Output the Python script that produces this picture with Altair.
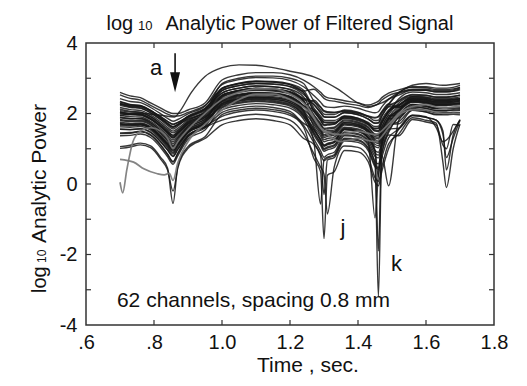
import altair as alt
import pandas as pd

# ---------------- data ----------------
T = [0.70, 0.73, 0.76, 0.79, 0.82, 0.84, 0.856, 0.87, 0.90, 0.95,
     1.00, 1.05, 1.10, 1.15, 1.20, 1.24,
     1.27, 1.29, 1.30, 1.31, 1.33, 1.36, 1.40, 1.43, 1.45, 1.46, 1.47, 1.49,
     1.52, 1.56, 1.60, 1.63, 1.65, 1.66, 1.68, 1.70]

ch01 = [2.60, 2.50, 2.45, 2.30, 2.15, 2.05, 2.00, 2.00, 2.10, 2.30,
        2.95, 3.10, 3.16, 3.16, 3.10, 2.95,
        2.76, 2.60, 2.50, 2.45, 2.42, 2.36, 2.30, 2.24, 2.30, 2.35, 2.45, 2.58,
        2.67, 2.76, 2.76, 2.72, 2.72, 2.72, 2.74, 2.80]
ch02 = [2.42, 2.34, 2.31, 2.17, 1.99, 1.86, 1.78, 1.83, 1.99, 2.21,
        2.82, 2.96, 3.02, 3.01, 2.94, 2.76,
        2.51, 2.32, 2.21, 2.18, 2.17, 2.21, 2.15, 2.06, 2.02, 2.05, 2.19, 2.40,
        2.52, 2.67, 2.66, 2.61, 2.61, 2.61, 2.63, 2.67]
ch03 = [2.12, 2.06, 2.04, 1.91, 1.71, 1.55, 1.45, 1.53, 1.76, 1.98,
        2.72, 2.86, 2.92, 2.91, 2.84, 2.66,
        2.16, 1.93, 1.81, 1.80, 1.80, 1.93, 1.87, 1.75, 1.63, 1.64, 1.83, 2.10,
        2.25, 2.44, 2.42, 2.37, 2.37, 2.37, 2.39, 2.42]
ch04 = [2.02, 1.98, 1.97, 1.85, 1.63, 1.45, 1.32, 1.44, 1.72, 1.96,
        2.65, 2.79, 2.85, 2.83, 2.76, 2.54,
        2.25, 2.02, 1.90, 1.89, 1.89, 2.02, 1.96, 1.84, 1.72, 1.73, 1.92, 2.19,
        2.18, 2.42, 2.39, 2.33, 2.33, 2.33, 2.35, 2.37]
ch05 = [1.80, 1.77, 1.78, 1.67, 1.42, 1.22, 1.06, 1.22, 1.56, 1.80,
        2.46, 2.60, 2.66, 2.64, 2.55, 2.31,
        1.97, 1.72, 1.58, 1.59, 1.61, 1.82, 1.76, 1.62, 1.42, 1.41, 1.63, 1.97,
        2.30, 2.49, 2.47, 2.42, 2.42, 2.42, 2.44, 2.47]
ch06 = [1.56, 1.55, 1.57, 1.47, 1.20, 0.97, 0.79, 0.99, 1.38, 1.64,
        2.28, 2.41, 2.46, 2.44, 2.35, 2.07,
        1.69, 1.42, 1.26, 1.29, 1.33, 1.61, 1.56, 1.39, 1.12, 1.09, 1.34, 1.75,
        2.10, 2.34, 2.31, 2.25, 2.25, 2.25, 2.27, 2.29]
ch07 = [1.37, 1.38, 1.42, 1.32, 1.03, 0.77, 0.56, 0.80, 1.27, 1.53,
        2.16, 2.29, 2.34, 2.31, 2.21, 1.90,
        1.47, 1.17, 1.01, 1.05, 1.11, 1.48, 1.43, 1.23, 0.87, 0.82, 1.12, 1.59,
        1.98, 2.26, 2.22, 2.16, 2.16, 2.16, 2.18, 2.19]
ch08 = [1.06, 1.10, 1.16, 1.08, 0.75, 0.45, -0.55, 0.50, 1.06, 1.34,
        1.97, 2.10, 2.15, 2.11, 2.00, 1.66,
        1.18, 0.84, 0.66, 0.73, 0.80, 1.27, 1.23, 1.00, 0.54, 0.47, 0.81, -0.05,
        1.81, 2.14, 2.09, 2.02, 2.02, 2.02, 2.04, 2.03]
ch09 = [2.23, 2.17, 2.15, 2.02, 1.82, 1.66, 1.56, 1.64, 1.87, 2.09,
        2.52, 2.66, 2.72, 2.70, 2.61, 2.37,
        1.79, 1.52, 1.36, 1.39, 1.43, 1.71, 1.66, 1.49, 1.22, 1.19, 1.44, 1.85,
        1.87, 2.20, 2.15, 2.08, 2.08, 2.08, 2.10, 2.09]
ch10 = [1.95, 1.91, 1.90, 1.78, 1.56, 1.38, 1.25, 1.37, 1.65, 1.89,
        2.29, 2.42, 2.47, 2.45, 2.36, 2.08,
        1.44, 1.14, 0.98, 1.02, 1.08, 1.45, 1.40, 1.20, -0.96, 0.30, 1.09, 1.56,
        1.58, 1.96, 1.91, 1.60, 1.20, 1.25, 1.50, 1.83]
ch11 = [1.83, 1.80, 1.81, 1.70, 1.45, 1.25, 1.09, 1.25, 1.59, 1.83,
        2.19, 2.32, 2.37, 2.34, 2.24, 1.93,
        1.21, -0.57, 0.69, 0.76, 0.83, 1.30, 1.26, 1.03, 0.57, -3.20, 0.84, 1.39,
        1.37, 1.83, 1.76, 1.68, 1.10, 1.00, 1.69, 1.65]
ch12 = [1.55, 1.54, 1.56, 1.46, 1.19, 0.96, 0.78, 0.98, 1.37, 1.63,
        1.92, 2.05, 2.10, 2.06, 1.95, 1.61,
        0.73, 0.35, -1.55, 0.25, 0.35, 0.95, 0.91, 0.63, 0.05, -0.05, 0.35, 1.01,
        1.56, 1.94, 1.89, 1.81, 1.40, 0.75, 1.30, 1.81]
ch13 = [2.34, 2.26, 2.23, 2.09, 1.91, 1.78, 1.70, 1.75, 1.91, 2.13,
        2.58, 2.72, 2.78, 2.76, 2.69, 2.47,
        1.94, 1.69, 1.55, 1.56, 1.58, 1.79, 1.73, 1.59, 1.39, 1.38, 1.60, 1.94,
        1.95, 2.23, 2.19, 2.13, 2.13, 2.13, 2.15, 2.16]
ch14 = [2.27, 2.21, 2.19, 2.06, 1.86, 1.70, 1.60, 1.68, 1.91, 2.13,
        2.71, 2.85, 2.91, 2.89, 2.82, 2.60,
        2.07, 1.82, 1.68, 1.69, 1.71, 1.92, 1.86, 1.72, 1.52, 1.51, 1.73, 2.07,
        2.24, 2.48, 2.45, 2.39, 2.39, 2.39, 2.41, 2.43]
ch15 = [1.90, 1.86, 1.85, 1.73, 1.51, 1.33, 1.20, 1.32, 1.60, 1.84,
        2.38, 2.52, 2.58, 2.56, 2.47, 2.23,
        1.89, 1.64, 1.50, 1.51, 1.53, 1.74, 1.68, 1.54, 1.34, 1.33, 1.55, 1.89,
        2.22, 2.41, 2.39, 2.34, 2.34, 2.34, 2.36, 2.39]
ch16 = [1.88, 1.85, 1.86, 1.75, 1.50, 1.30, 1.14, 1.30, 1.64, 1.88,
        2.40, 2.53, 2.58, 2.56, 2.47, 2.19,
        2.05, 1.80, 1.66, 1.67, 1.69, 1.90, 1.84, 1.70, 1.50, 1.49, 1.71, 2.05,
        2.22, 2.46, 2.43, 2.37, 2.37, 2.37, 2.39, 2.41]
ch17 = [2.08, 2.04, 2.03, 1.91, 1.69, 1.51, 1.38, 1.50, 1.78, 2.02,
        2.42, 2.55, 2.60, 2.58, 2.49, 2.21,
        1.83, 1.56, 1.40, 1.43, 1.47, 1.75, 1.70, 1.53, 1.26, 1.23, 1.48, 1.89,
        2.08, 2.36, 2.32, 2.26, 2.26, 2.26, 2.28, 2.29]
ch18 = [1.70, 1.67, 1.68, 1.57, 1.32, 1.12, 0.96, 1.12, 1.46, 1.70,
        2.36, 2.50, 2.56, 2.54, 2.45, 2.21,
        2.11, 1.88, 1.76, 1.75, 1.75, 1.88, 1.82, 1.70, 1.58, 1.59, 1.78, 2.05,
        2.37, 2.52, 2.51, 2.46, 2.46, 2.46, 2.48, 2.52]
ch19 = [1.66, 1.65, 1.67, 1.57, 1.30, 1.07, 0.89, 1.09, 1.48, 1.74,
        2.22, 2.35, 2.40, 2.37, 2.27, 1.96,
        1.55, 1.25, 1.09, 1.13, 1.19, 1.56, 1.51, 1.31, 0.95, 0.90, 1.20, 1.67,
        2.04, 2.32, 2.28, 2.22, 2.22, 2.22, 2.24, 2.25]
ch20 = [1.43, 1.44, 1.48, 1.38, 1.09, 0.83, 0.62, 0.86, 1.33, 1.59,
        2.03, 2.16, 2.21, 2.17, 2.06, 1.72,
        1.53, 1.23, 1.07, 1.11, 1.17, 1.54, 1.49, 1.29, 0.93, -1.90, 1.18, 1.65,
        1.77, 2.10, 2.05, 1.98, 1.98, 1.98, 2.00, 1.99]
ch21 = [2.27, 2.19, 2.16, 2.02, 1.84, 1.71, 1.63, 1.68, 1.84, 2.06,
        2.85, 3.00, 3.06, 3.06, 3.00, 2.85,
        2.36, 2.17, 2.06, 2.03, 2.02, 2.06, 2.00, 1.91, 1.87, 1.90, 2.04, 2.25,
        2.57, 2.66, 2.66, 2.62, 2.62, 2.62, 2.64, 2.70]
ch22 = [2.29, 2.23, 2.21, 2.08, 1.88, 1.72, 1.62, 1.70, 1.93, 2.15,
        2.58, 2.72, 2.78, 2.76, 2.67, 2.43,
        2.33, 2.10, 1.98, 1.97, 1.97, 2.10, 2.04, 1.92, 1.80, 1.81, 2.00, 2.27,
        2.59, 2.74, 2.73, 2.68, 2.68, 2.68, 2.70, 2.74]
ch23 = [2.00, 1.96, 1.95, 1.83, 1.61, 1.43, 1.30, 1.42, 1.70, 1.94,
        2.48, 2.62, 2.68, 2.66, 2.57, 2.33,
        1.75, 1.48, 1.32, 1.35, 1.39, 1.67, 1.62, 1.45, 1.18, 1.15, 1.40, 1.81,
        2.16, 2.40, 2.37, 2.31, 2.31, 2.31, 2.33, 2.35]
ch24 = [1.72, 1.69, 1.70, 1.59, 1.34, 1.14, 0.98, 1.14, 1.48, 1.72,
        2.24, 2.37, 2.42, 2.40, 2.31, 2.03,
        1.39, 1.09, 0.93, 0.97, 1.03, 1.40, 1.35, 1.15, 0.79, 0.74, 1.04, 1.51,
        1.90, 2.18, 2.14, 2.08, 2.08, 2.08, 2.10, 2.11]
ch25 = [1.45, 1.46, 1.50, 1.40, 1.11, 0.85, 0.64, 0.88, 1.35, 1.61,
        1.81, 1.93, 1.98, 1.93, 1.81, 1.42,
        0.86, 0.48, 0.28, -0.85, 0.48, 1.08, 1.04, 0.76, 0.18, 0.08, 0.48, 1.14,
        1.42, 1.88, 1.81, 1.73, 0.60, -0.10, 1.00, 1.70]
ch26 = [2.53, 2.43, 2.38, 2.23, 2.08, 1.98, 1.93, 1.93, 2.03, 2.23,
        2.70, 2.84, 2.90, 2.89, 2.82, 2.64,
        2.69, 2.53, 2.43, 2.38, 2.35, 2.29, 2.23, 2.17, 2.23, 2.28, 2.38, 2.51,
        2.60, 2.69, 2.69, 2.65, 2.65, 2.65, 2.67, 2.73]
ch27 = [1.70, 1.69, 1.71, 1.61, 1.34, 1.11, 0.93, 1.13, 1.52, 1.78,
        2.26, 2.39, 2.44, 2.41, 2.31, 2.00,
        1.57, 1.27, 1.11, 1.15, 1.21, 1.58, 1.53, 1.33, 0.97, 0.20, 1.22, 1.69,
        1.71, 2.09, 2.04, 1.96, 1.96, 1.96, 1.98, 1.96]
ch28 = [1.01, 1.05, 1.11, 1.03, 0.70, 0.40, -0.20, 0.45, 1.01, 1.29,
        1.68, 1.80, 1.85, 1.80, 1.68, 1.29,
        1.13, 0.79, -0.30, 0.68, 0.75, 1.22, 1.18, 0.95, 0.49, 0.42, 0.76, 1.31,
        1.56, 1.94, 1.89, 1.81, 1.50, 0.40, 1.40, 1.81]
ch29 = [2.17, 2.11, 2.09, 1.96, 1.76, 1.60, 1.50, 1.58, 1.81, 2.03,
        2.51, 2.65, 2.71, 2.69, 2.62, 2.40,
        2.26, 2.03, 1.91, 1.90, 1.90, 2.03, 1.97, 1.85, 1.73, 1.74, 1.93, 2.20,
        2.35, 2.54, 2.52, 2.47, 2.47, 2.47, 2.49, 2.52]
ch30 = [1.75, 1.72, 1.73, 1.62, 1.37, 1.17, 1.01, 1.17, 1.51, 1.75,
        2.51, 2.65, 2.71, 2.69, 2.60, 2.36,
        1.63, 1.36, 1.20, 1.23, 1.27, 1.55, 1.50, 1.33, 1.06, 1.03, 1.28, 1.69,
        2.09, 2.33, 2.30, 2.24, 2.24, 2.24, 2.26, 2.28]
ch31 = [2.04, 2.00, 1.99, 1.87, 1.65, 1.47, 1.34, 1.46, 1.74, 1.98,
        2.32, 2.45, 2.50, 2.48, 2.39, 2.11,
        1.85, 1.60, 1.46, 1.47, 1.49, 1.70, 1.64, 1.50, 1.30, 1.29, 1.51, 1.85,
        2.10, 2.38, 2.34, 2.28, 2.28, 2.28, 2.30, 2.31]
ch32 = [2.33, 2.25, 2.22, 2.08, 1.90, 1.77, 1.69, 1.74, 1.90, 2.12,
        2.65, 2.79, 2.85, 2.84, 2.77, 2.59,
        2.09, 1.86, 1.74, 1.73, 1.73, 1.86, 1.80, 1.68, 1.56, 1.57, 1.76, 2.03,
        2.42, 2.61, 2.59, 2.54, 2.54, 2.54, 2.56, 2.59]
ch33 = [1.62, 1.61, 1.63, 1.53, 1.26, 1.03, 0.85, 1.05, 1.44, 1.70,
        2.10, 2.23, 2.28, 2.25, 2.15, 1.84,
        1.28, 0.94, 0.76, 0.83, 0.90, 1.37, 1.33, 1.10, 0.64, 0.57, 0.91, 1.46,
        1.93, 2.26, 2.21, 2.14, 2.14, 2.14, 2.16, 2.15]
ch34 = [2.05, 1.99, 1.97, 1.84, 1.64, 1.48, 1.38, 1.46, 1.69, 1.91,
        2.34, 2.48, 2.54, 2.52, 2.43, 2.19,
        2.38, 2.19, 2.08, 2.05, 2.04, 2.08, 2.02, 1.93, 1.89, 1.92, 2.06, 2.27,
        2.18, 2.37, 2.35, 2.30, 2.30, 2.30, 2.32, 2.35]

grid_channels = [ch01, ch02, ch03, ch04, ch05, ch06, ch07, ch08, ch09, ch10,
                 ch11, ch12, ch13, ch14, ch15, ch16, ch17, ch18, ch19, ch20,
                 ch21, ch22, ch23, ch24, ch25, ch26, ch27, ch28, ch29, ch30,
                 ch31, ch32, ch33, ch34]

# channels with their own sample times
top_t = [0.70, 0.76, 0.82, 0.86, 0.875, 0.91, 0.95, 1.00, 1.05, 1.10, 1.15,
         1.20, 1.27, 1.34, 1.40, 1.43, 1.47, 1.52, 1.56, 1.60, 1.65, 1.70]
top_v = [1.95, 2.0, 1.95, 1.9, 2.05, 2.6, 3.05, 3.3, 3.38, 3.37, 3.3,
         3.2, 3.04, 2.7, 2.3, 2.2, 2.3, 2.6, 2.8, 2.85, 2.8, 2.85]

vline_t = [0.70, 0.708, 0.72, 0.738, 0.76, 0.79, 0.82, 0.84, 0.856, 0.87,
           0.90, 0.95, 1.00, 1.05, 1.10, 1.15, 1.20, 1.25, 1.30, 1.35,
           1.40, 1.45, 1.49, 1.52, 1.56, 1.60, 1.65, 1.70]
vline_v = [0.05, -0.25, 0.4, 1.2, 1.5, 1.6, 1.5, 1.3, 1.0, 1.2,
           1.55, 2.0, 2.4, 2.6, 2.7, 2.7, 2.55, 2.2, 1.5, 1.4,
           1.5, 1.4, 1.7, 2.0, 2.2, 2.25, 2.15, 2.2]

low_t = [0.70, 0.74, 0.77, 0.81, 0.83, 0.845, 0.856, 0.87, 0.90, 0.95,
         1.00, 1.05, 1.10, 1.15, 1.20, 1.25, 1.30, 1.35, 1.40, 1.45,
         1.49, 1.52, 1.56, 1.60, 1.65, 1.70]
low_v = [0.7, 0.62, 0.43, 0.29, 0.26, 0.3, 0.1, 0.6, 1.2, 1.7,
         2.1, 2.4, 2.55, 2.55, 2.4, 2.1, 1.5, 1.2, 1.3, 1.2,
         1.6, 1.95, 2.1, 2.1, 2.0, 2.0]

# axes
x_label_values = [0.6, 0.8, 1.0, 1.2, 1.4, 1.6, 1.8]
x_label_texts = [".6", ".8", "1.0", "1.2", "1.4", "1.6", "1.8"]
y_label_values = [4, 2, 0, -2, -4]
y_label_texts = ["4", "2", "0", "-2", "-4"]
x_inner_ticks = [0.8, 1.0, 1.2, 1.4, 1.6]
y_inner_ticks = [-3, -2, -1, 0, 1, 2, 3]

# annotations
ann_t = [0.806, 1.356, 1.513]
ann_v = [3.3, -1.25, -2.26]
ann_text = ["a", "j", "k"]
note_t = [0.691]
note_v = [-3.48]
note_text = ["62 channels, spacing 0.8 mm"]
arrow_t = [0.862]
arrow_top = [3.71]
arrow_bottom = [3.0]
arrow_head = [2.89]

# ---------------- build tables ----------------
rows = []
for i, vals in enumerate(grid_channels):
    for t, v in zip(T, vals):
        rows.append({"ch": f"c{i:02d}", "t": t, "v": v})
for t, v in zip(top_t, top_v):
    rows.append({"ch": "top", "t": t, "v": v})
dark = pd.DataFrame(rows)

rows = []
for name, ts, vs in [("vline", vline_t, vline_v), ("low", low_t, low_v)]:
    for t, v in zip(ts, vs):
        rows.append({"ch": name, "t": t, "v": v})
gray = pd.DataFrame(rows)


def label_expr(values, labels):
    parts = [f"abs(datum.value - ({v})) < 1e-6 ? '{l}'" for v, l in zip(values, labels)]
    return " : ".join(parts) + " : ''"


W, H = 408, 282
FONT = "Liberation Sans"
x_scale = alt.Scale(domain=[0.6, 1.8], nice=False, zero=False)
y_scale = alt.Scale(domain=[-4, 4], nice=False, zero=False)

x_axis = alt.Axis(values=x_label_values, labelExpr=label_expr(x_label_values, x_label_texts),
                  ticks=False, domain=False, grid=False, labelFont=FONT, labelFontSize=20,
                  labelColor="#111", labelPadding=7, title=None, labelFlush=False)
y_axis = alt.Axis(values=y_label_values, labelExpr=label_expr(y_label_values, y_label_texts),
                  ticks=False, domain=False, grid=False, labelFont=FONT, labelFontSize=20,
                  labelColor="#111", labelPadding=9, title=None, labelFlush=False)


def X(field):
    return alt.X(field, scale=x_scale, axis=x_axis)


def Y(field):
    return alt.Y(field, scale=y_scale, axis=y_axis)


lines = alt.Chart(dark).mark_line(color="#161616", strokeWidth=1.4, opacity=0.85,
                                  interpolate="monotone", clip=True).encode(
    x=X("t:Q"), y=Y("v:Q"), detail="ch:N")
gray_lines = alt.Chart(gray).mark_line(color="#777", strokeWidth=1.7, opacity=0.9,
                                       interpolate="monotone", clip=True).encode(
    x=X("t:Q"), y=Y("v:Q"), detail="ch:N")

xt = pd.DataFrame({"t": x_inner_ticks})
yt = pd.DataFrame({"v": y_inner_ticks})
tick_style = dict(color="#333", strokeWidth=1.2)
tick_bottom = alt.Chart(xt).mark_rule(**tick_style).encode(
    x=X("t:Q"), y=alt.value(H), y2=alt.value(H - 5))
tick_top = alt.Chart(xt).mark_rule(**tick_style).encode(
    x=X("t:Q"), y=alt.value(0), y2=alt.value(5))
tick_left = alt.Chart(yt).mark_rule(**tick_style).encode(
    y=Y("v:Q"), x=alt.value(0), x2=alt.value(5))
tick_right = alt.Chart(yt).mark_rule(**tick_style).encode(
    y=Y("v:Q"), x=alt.value(W), x2=alt.value(W - 5))

ann = alt.Chart(pd.DataFrame({"t": ann_t, "v": ann_v, "label": ann_text})).mark_text(
    font=FONT, fontSize=22, color="#111", align="center", baseline="middle").encode(
    x=X("t:Q"), y=Y("v:Q"), text="label:N")
note = alt.Chart(pd.DataFrame({"t": note_t, "v": note_v, "label": note_text})).mark_text(
    font=FONT, fontSize=21, color="#111", align="left", baseline="alphabetic").encode(
    x=X("t:Q"), y=Y("v:Q"), text="label:N")

arrow_df = pd.DataFrame({"t": arrow_t, "v": arrow_top, "v2": arrow_bottom, "h": arrow_head})
arrow_stem = alt.Chart(arrow_df).mark_rule(color="#111", strokeWidth=1.6).encode(
    x=X("t:Q"), y=Y("v:Q"), y2="v2:Q")
arrow_tip = alt.Chart(arrow_df).mark_point(shape="M-1,-2L1,-2L0,2Z", filled=True, size=100,
                                           color="#111", opacity=1).encode(
    x=X("t:Q"), y=Y("h:Q"))

one = alt.Data(values=[{}])


def txt(text, x, y, size, angle=0, align="left", baseline="alphabetic"):
    kw = dict(font=FONT, fontSize=size, color="#111", align=align, baseline=baseline)
    if angle:
        kw["angle"] = angle
    return alt.Chart(one).mark_text(**kw).encode(
        x=alt.value(x), y=alt.value(y), text=alt.value(text))


titles = [
    txt("log", 20.5, -13, 20),
    txt("10", 52, -13, 13),
    txt("Analytic Power of Filtered Signal", 79.5, -13, 20),
    txt("log", -40, 250, 20, angle=270),
    txt("10", -40, 220, 12, angle=270),
    txt("Analytic Power", -40, 200, 21, angle=270),
    txt("Time ,  sec.", 222, 329, 21, align="center"),
]

chart = alt.layer(
    lines, gray_lines, tick_bottom, tick_top, tick_left, tick_right,
    ann, note, arrow_stem, arrow_tip, *titles
).properties(
    width=W, height=H,
    autosize=alt.AutoSizeParams(type="none"),
    padding={"left": 78, "top": 35, "right": 25, "bottom": 53},
    background="white",
).configure_view(stroke="#333", strokeWidth=1.5)

chart.save("out.html", embed_options={"renderer": "svg", "actions": False})
